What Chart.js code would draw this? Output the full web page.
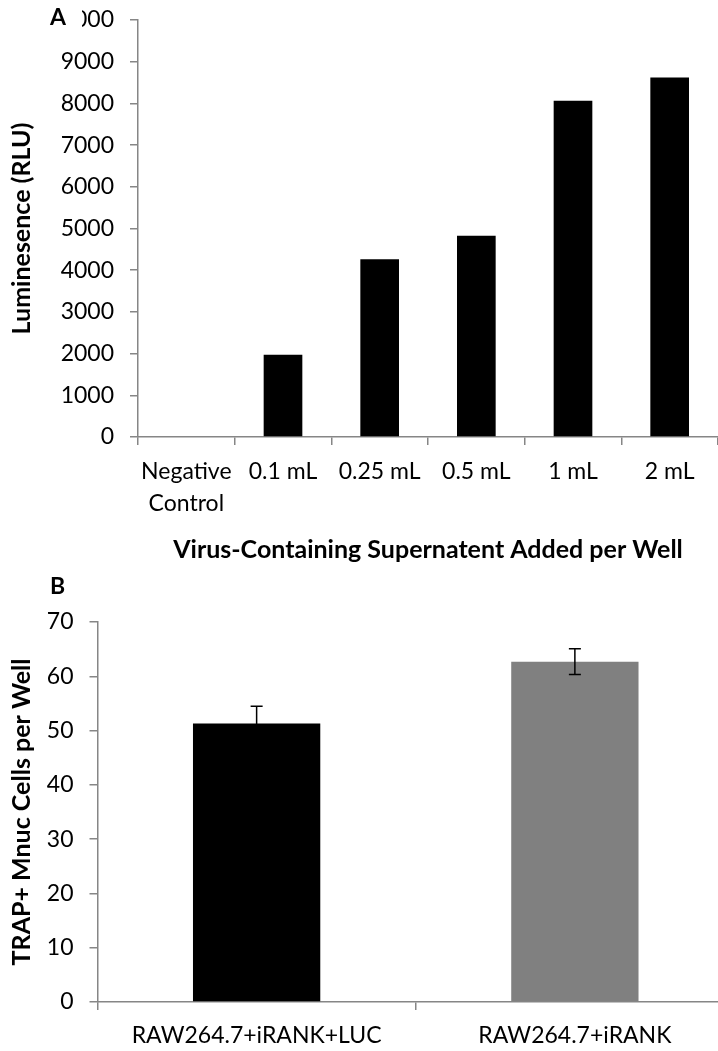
<!DOCTYPE html>
<html>
<head>
<meta charset="utf-8">
<script src="https://cdn.jsdelivr.net/npm/chart.js@4/dist/chart.umd.min.js"></script>
<style>
  html, body { margin: 0; padding: 0; background: #fff; overflow: hidden; }
  #wrapA { position: absolute; left: 0; top: 0; width: 718px; height: 570px; }
  #wrapB { position: absolute; left: 0; top: 570px; width: 760px; height: 481px; }
</style>
</head>
<body>
<div id="wrapA"><canvas id="chartA"></canvas></div>
<div id="wrapB"><canvas id="chartB"></canvas></div>
<script>
// panel A data
var volumes = [['Negative', 'Control'], '0.1 mL', '0.25 mL', '0.5 mL', '1 mL', '2 mL'];
var luminescence = [0, 1975, 4265, 4825, 8065, 8620];

// panel B data
var cellLines = ['RAW264.7+iRANK+LUC', 'RAW264.7+iRANK'];
var trapCells = [51.3, 62.7];
var trapErr = [3.2, 2.35];
var trapColors = ['#000000', '#808080'];

var axisGrey = '#868686';
var fam = 'Lato, "Open Sans", sans-serif';

// draws the panel letter with a white box behind it
function panelLetter(letter, x, y, box) {
  return {
    id: 'letter' + letter,
    afterDraw: function (chart) {
      var ctx = chart.ctx;
      ctx.save();
      if (box) {
        ctx.fillStyle = '#fff';
        ctx.fillRect(box[0], box[1], box[2], box[3]);
      }
      ctx.fillStyle = '#000';
      ctx.font = 'bold 23px ' + fam;
      ctx.textAlign = 'left';
      ctx.textBaseline = 'middle';
      ctx.fillText(letter, x, y);
      ctx.restore();
    }
  };
}

var errorBars = {
  id: 'errorBars',
  afterDatasetsDraw: function (chart) {
    var ctx = chart.ctx;
    var meta = chart.getDatasetMeta(0);
    var yScale = chart.scales.y;
    ctx.save();
    ctx.strokeStyle = '#000';
    ctx.lineWidth = 1.5;
    meta.data.forEach(function (bar, i) {
      var v = trapCells[i], e = trapErr[i];
      var x = bar.x;
      var yTop = yScale.getPixelForValue(v + e);
      var yBot = yScale.getPixelForValue(v - e);
      ctx.beginPath();
      ctx.moveTo(x, yTop); ctx.lineTo(x, yBot);
      ctx.moveTo(x - 6, yTop); ctx.lineTo(x + 6, yTop);
      ctx.moveTo(x - 6, yBot); ctx.lineTo(x + 6, yBot);
      ctx.stroke();
    });
    ctx.restore();
  }
};

function plainTick(v) { return String(v); }

Chart.defaults.font.family = fam;
Chart.defaults.color = '#000';

new Chart(document.getElementById('chartA').getContext('2d'), {
  type: 'bar',
  data: {
    labels: volumes,
    datasets: [{
      data: luminescence,
      backgroundColor: '#000000',
      borderWidth: 0,
      categoryPercentage: 1.0,
      barPercentage: 0.4
    }]
  },
  options: {
    responsive: true,
    maintainAspectRatio: false,
    animation: false,
    layout: { padding: { top: 20, right: 0, left: 0, bottom: 0 } },
    plugins: { legend: { display: false }, tooltip: { enabled: false } },
    scales: {
      x: {
        grid: { drawOnChartArea: false, drawTicks: true, tickLength: 8, color: axisGrey, lineWidth: 1.5 },
        border: { color: axisGrey, width: 1.5 },
        ticks: { font: { size: 23, lineHeight: 1.4 }, padding: 10, maxRotation: 0, autoSkip: false },
        title: {
          display: true,
          text: 'Virus-Containing Supernatent Added per Well',
          font: { size: 25, weight: 'bold' },
          padding: { top: 0, bottom: 5 }
        },
        afterFit: function (s) { s.height = 570 - 437; s.paddingLeft = 0; s.paddingRight = 0; }
      },
      y: {
        min: 0,
        max: 10000,
        ticks: { stepSize: 1000, font: { size: 23 }, padding: 16, callback: plainTick },
        grid: { drawOnChartArea: false, drawTicks: true, tickLength: 8, color: axisGrey, lineWidth: 1.5 },
        border: { color: axisGrey, width: 1.5 },
        title: {
          display: true,
          text: 'Luminesence (RLU)',
          font: { size: 25, weight: 'bold' },
          padding: { top: 7, bottom: 0 }
        },
        afterFit: function (s) { s.width = 138; s.paddingTop = 0; s.paddingBottom = 0; }
      }
    }
  },
  plugins: [panelLetter('A', 50, 18, [40, 3, 42, 32])]
});

new Chart(document.getElementById('chartB').getContext('2d'), {
  type: 'bar',
  data: {
    labels: cellLines,
    datasets: [{
      data: trapCells,
      backgroundColor: trapColors,
      borderWidth: 0,
      categoryPercentage: 1.0,
      barPercentage: 0.4
    }]
  },
  options: {
    responsive: true,
    maintainAspectRatio: false,
    animation: false,
    layout: { padding: { top: 52, right: 26, left: 0, bottom: 0 } },
    plugins: { legend: { display: false }, tooltip: { enabled: false } },
    scales: {
      x: {
        grid: { drawOnChartArea: false, drawTicks: true, tickLength: 8, color: axisGrey, lineWidth: 1.5 },
        border: { color: axisGrey, width: 1.5 },
        ticks: { font: { size: 23 }, padding: 12, maxRotation: 0, autoSkip: false },
        afterFit: function (s) { s.height = 481 - 432; s.paddingLeft = 0; s.paddingRight = 0; }
      },
      y: {
        min: 0,
        max: 70,
        ticks: { stepSize: 10, font: { size: 23 }, padding: 16, callback: plainTick },
        grid: { drawOnChartArea: false, drawTicks: true, tickLength: 8, color: axisGrey, lineWidth: 1.5 },
        border: { color: axisGrey, width: 1.5 },
        title: {
          display: true,
          text: 'TRAP+ Mnuc Cells per Well',
          font: { size: 25, weight: 'bold' },
          padding: { top: 7, bottom: 0 }
        },
        afterFit: function (s) { s.width = 97.5; s.paddingTop = 0; s.paddingBottom = 0; }
      }
    }
  },
  plugins: [errorBars, panelLetter('B', 50, 17)]
});
</script>
</body>
</html>
